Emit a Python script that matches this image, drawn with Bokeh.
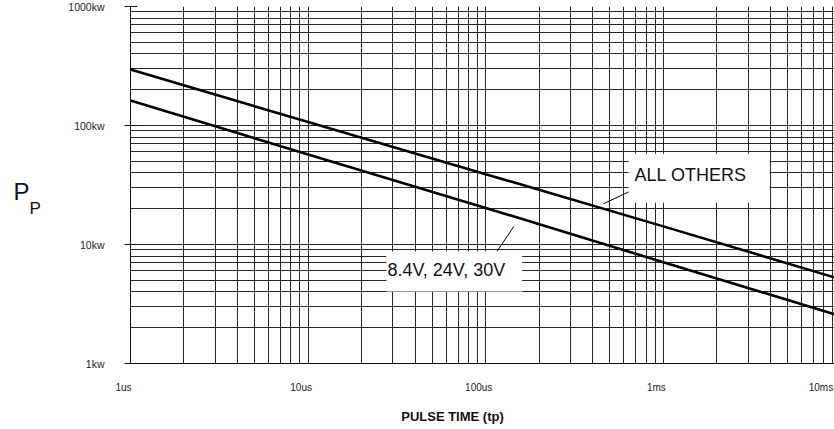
from bokeh.plotting import figure
from bokeh.models import FixedTicker, Label, Range1d
from bokeh.embed import file_html
from bokeh.resources import INLINE

# ---- data ----
pulse_time = [1e-6, 1e-5, 1e-4, 1e-3, 1e-2]          # seconds
pp_all_others = [295, 107, 39, 14.2, 5.1]             # kW
pp_low_voltage = [162, 57, 20.3, 7.1, 2.5]            # kW (8.4V, 24V, 30V)

x_ticks = [1e-6, 1e-5, 1e-4, 1e-3]
x_tick_labels = ["1us", "10us", "100us", "1ms"]
x_last_tick = 1e-2
x_last_label = "10ms"
y_ticks = [1, 10, 100, 1000]
y_tick_labels = ["1kw", "10kw", "100kw", "1000kw"]

decades_x = [1e-6, 1e-5, 1e-4, 1e-3, 1e-2]
decades_y = [1, 10, 100, 1000]
mults = [2, 3, 4, 5, 6, 7, 8, 9]

# leader lines (annotation pointers): x0, y0 -> x1, y1
leader_x0 = [8.0e-4, 1.44e-4]
leader_y0 = [32.4, 14.2]
leader_x1 = [4.6e-4, 1.12e-4]
leader_y1 = [22.0, 8.1]

FONT = "Liberation Sans"
INK = "#111111"
LBL = "#222222"

p = figure(width=834, height=429, x_axis_type="log", y_axis_type="log",
           x_range=Range1d(1e-6, 9.2e-3), y_range=Range1d(1, 1000),
           output_backend="svg", toolbar_location=None,
           min_border_left=130, min_border_right=0, min_border_top=6,
           min_border_bottom=66, outline_line_color=None)
p.background_fill_color = "white"
p.border_fill_color = "white"

# grid
p.xgrid.ticker = FixedTicker(ticks=decades_x,
                             minor_ticks=[m * d for d in decades_x for m in mults])
p.ygrid.ticker = FixedTicker(ticks=decades_y,
                             minor_ticks=[m * d for d in decades_y for m in mults])
for g in (p.xgrid, p.ygrid):
    g.grid_line_color = INK
    g.grid_line_width = 1
    g.grid_line_alpha = 0.9
    g.minor_grid_line_color = INK
    g.minor_grid_line_width = 1
    g.minor_grid_line_alpha = 0.9

# x axis: line only (its tick labels are drawn as labels, offset like the original)
p.xaxis.ticker = FixedTicker(ticks=[])
p.xaxis.major_tick_line_color = None
p.xaxis.minor_tick_line_color = None
p.xaxis.axis_line_color = INK

# y axis with its own tick labels
p.yaxis.ticker = FixedTicker(ticks=y_ticks)
p.yaxis.major_label_overrides = dict(zip(y_ticks, y_tick_labels))
p.yaxis.major_label_text_font = FONT
p.yaxis.major_label_text_font_size = "10.5px"
p.yaxis.major_label_text_color = LBL
p.yaxis.major_label_standoff = 20
p.yaxis.major_tick_out = 6
p.yaxis.major_tick_in = 7
p.yaxis.major_tick_line_color = INK
p.yaxis.minor_tick_line_color = None
p.yaxis.axis_line_color = INK

# curves
p.line(pulse_time, pp_all_others, line_width=2.6, line_color="black")
p.line(pulse_time, pp_low_voltage, line_width=2.6, line_color="black")

# leader lines
p.segment(leader_x0, leader_y0, leader_x1, leader_y1, line_width=1, line_color="black")

# x tick labels (placed in side panels so the frame does not clip them;
# the first one goes to the left panel to keep the bottom panel within its border)
for xv, t in zip(x_ticks, x_tick_labels):
    side = "left" if xv == x_ticks[0] else "below"
    p.add_layout(Label(x=xv, y=decades_y[0], text=t, x_offset=-7, y_offset=-24,
                       text_align="center", text_baseline="middle",
                       text_font=FONT, text_font_size="10px", text_color=LBL), side)
p.add_layout(Label(x=x_last_tick, y=decades_y[0], text=x_last_label, x_offset=-20, y_offset=-24,
                   text_align="center", text_baseline="middle",
                   text_font=FONT, text_font_size="10px", text_color=LBL), "below")

# axis titles
p.add_layout(Label(x=1e-6, y=1, text="PULSE TIME (tp)", x_offset=322, y_offset=-53,
                   text_align="center", text_baseline="alphabetic",
                   text_font=FONT, text_font_size="13px", text_font_style="bold",
                   text_color=INK), "below")
p.add_layout(Label(x=1e-6, y=23.9, text="P", x_offset=-117, y_offset=8,
                   text_align="left", text_baseline="alphabetic",
                   text_font=FONT, text_font_size="24px", text_color=INK), "left")
p.add_layout(Label(x=1e-6, y=17.9, text="P", x_offset=-101, y_offset=6,
                   text_align="left", text_baseline="alphabetic",
                   text_font=FONT, text_font_size="17px", text_color=INK), "left")

# curve labels with white boxes
p.add_layout(Label(x=6.37e-4, y=36.0, text="ALL OTHERS",
                   text_align="left", text_baseline="middle",
                   text_font=FONT, text_font_size="18px", text_color=INK,
                   background_fill_color="white", border_line_color=None,
                   padding=dict(left=6, right=23, top=11, bottom=18)))
p.add_layout(Label(x=2.76e-5, y=5.93, text="8.4V, 24V, 30V",
                   text_align="left", text_baseline="middle",
                   text_font=FONT, text_font_size="18px", text_color=INK,
                   background_fill_color="white", border_line_color=None,
                   padding=dict(left=1, right=17, top=8, bottom=12)))

open("out.html", "w").write(file_html(p, INLINE))
